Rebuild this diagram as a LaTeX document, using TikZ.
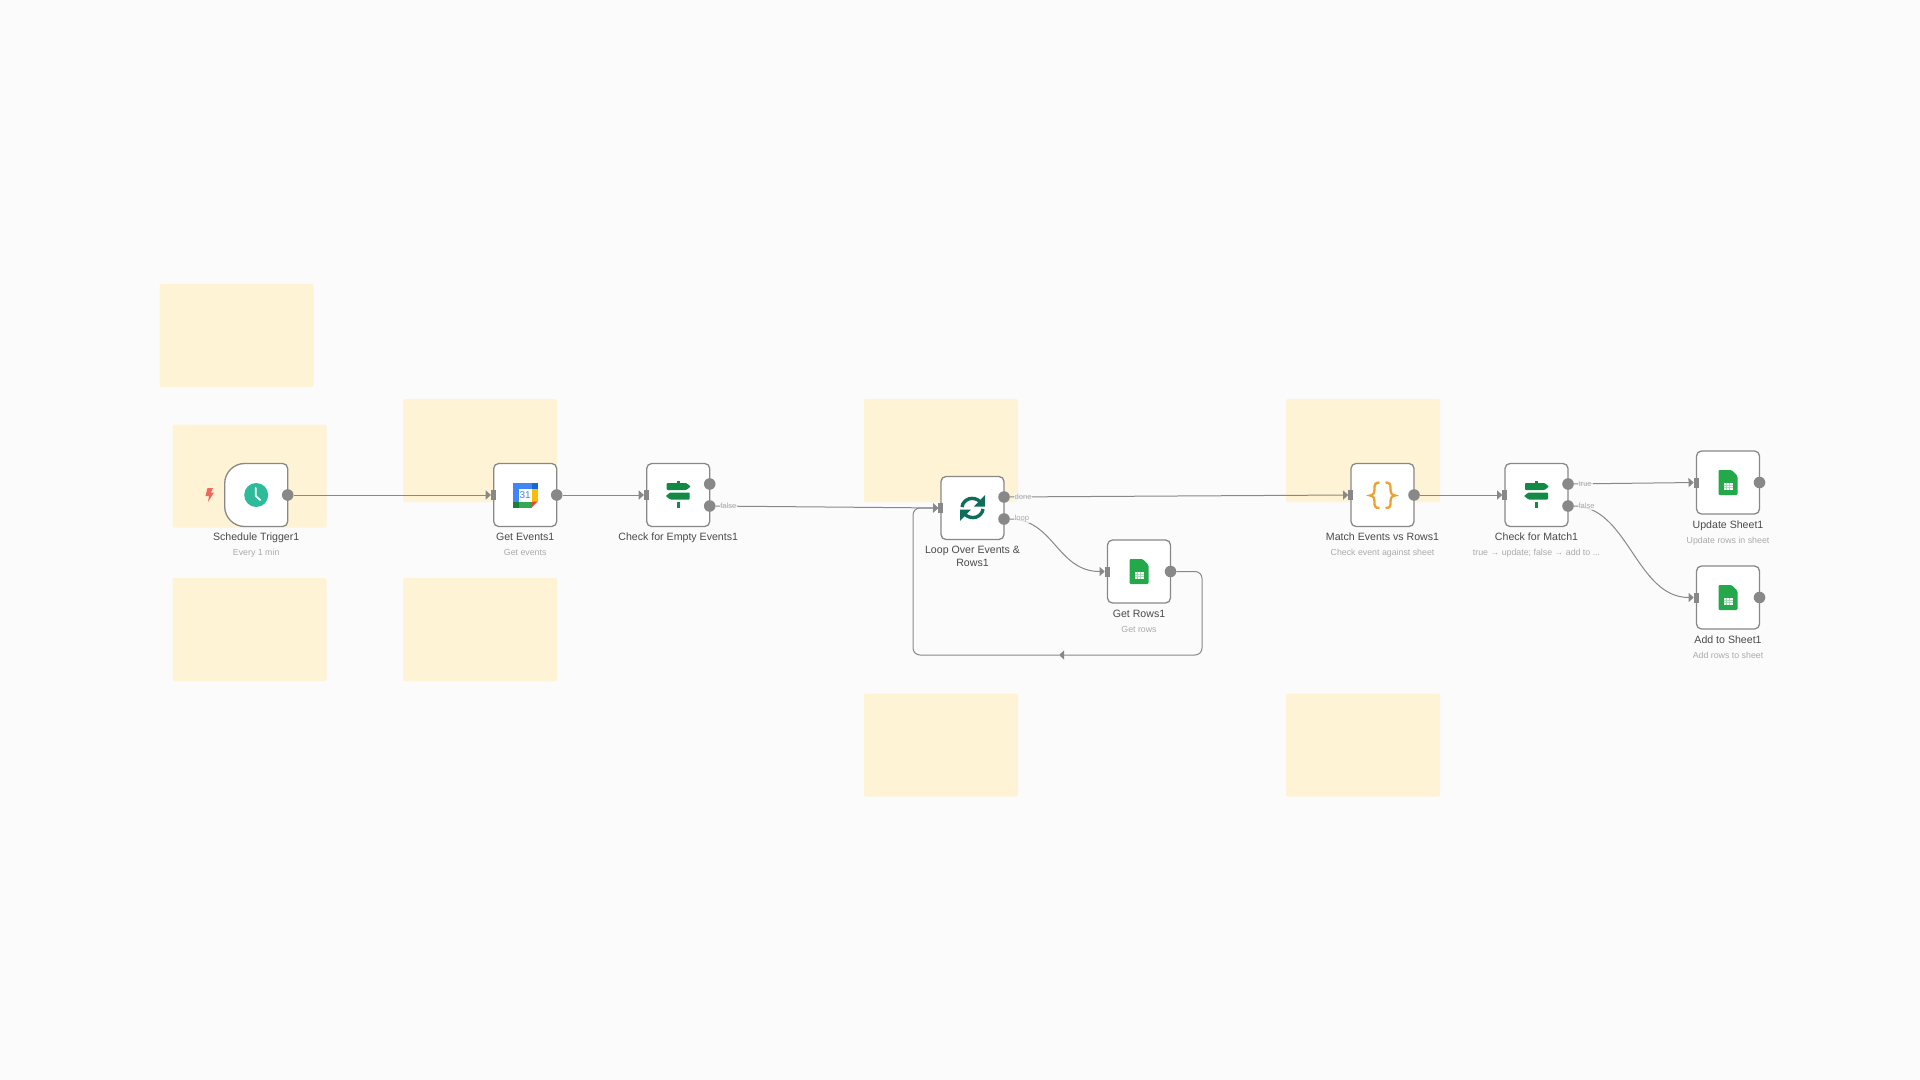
\documentclass[tikz,border=0pt]{standalone}
\usepackage{fontspec}
\setmainfont{Liberation Sans}
\usetikzlibrary{arrows.meta,positioning,calc}

\definecolor{pagebg}{HTML}{FBFBFB}
\definecolor{notefill}{HTML}{FEF3D4}
\definecolor{linegray}{HTML}{888888}
\definecolor{titlegray}{HTML}{4A4A4A}
\definecolor{subgray}{HTML}{ABABAB}
\definecolor{sheetgreen}{HTML}{23A84A}
\definecolor{signgreen}{HTML}{128A45}
\definecolor{loopteal}{HTML}{0F6E5B}
\definecolor{clockteal}{HTML}{2DBB9A}
\definecolor{codeorange}{HTML}{F0A030}
\definecolor{boltred}{HTML}{F0675C}
\definecolor{calblue}{HTML}{4285F4}
\definecolor{caldark}{HTML}{1967D2}
\definecolor{calyellow}{HTML}{FBBC04}
\definecolor{calgreen}{HTML}{34A853}
\definecolor{caldeep}{HTML}{188038}
\definecolor{calred}{HTML}{EA4335}

\tikzset{
    note/.style={fill=notefill, rounded corners=1pt, minimum width=77pt, minimum height=51.5pt, inner sep=0pt, outer sep=0pt},
    nodebox/.style={draw=linegray, line width=0.65pt, fill=white, rounded corners=2.5pt, minimum width=31.5pt, minimum height=31.5pt, inner sep=0pt, outer sep=0pt},
    port/.style={circle, fill=linegray, minimum size=5.8pt, inner sep=0pt, outer sep=0pt},
    inport/.style={fill=linegray, minimum width=2.4pt, minimum height=5pt, inner sep=0pt, outer sep=0pt, anchor=east},
    edge/.style={draw=linegray, line width=0.5pt},
    arrowedge/.style={edge, -{Triangle[length=2.6pt,width=4.6pt]}},
    title/.style={text=titlegray, font=\fontsize{5.3}{6.5}\selectfont, align=center, inner sep=0pt, text height=4pt, text depth=1.2pt},
    subtitle/.style={text=subgray, font=\fontsize{4.4}{5.5}\selectfont, inner sep=0pt, text height=3.4pt, text depth=1pt},
    portlabel/.style={text=subgray, font=\fontsize{3.8}{4}\selectfont, inner sep=0.4pt, fill=pagebg, fill opacity=0.75, text opacity=1},
    clockicon/.pic={
        \fill[clockteal] (0,0) circle (6pt);
        \draw[white, line width=0.9pt, line cap=round, line join=round] (-0.5,-7) -- (-0.5,1) -- (4,5);
    },
    calicon/.pic={
        \fill[calblue] (-12.5,-12.5) rectangle (6.5,12.5);
        \fill[caldark] (6.5,-12.5) rectangle (12.5,-6.5);
        \fill[calyellow] (6.5,-6.5) rectangle (12.5,6.5);
        \fill[calgreen] (-6.5,6.5) rectangle (6.5,12.5);
        \fill[caldeep] (-12.5,6.5) rectangle (-6.5,12.5);
        \fill[calred] (6.5,6.5) -- (12.5,6.5) -- (6.5,12.5) -- cycle;
        \fill[white] (-6.5,-6.5) rectangle (6.5,6.5);
        \node[inner sep=0pt, text=calblue, font=\fontsize{5}{5}\selectfont] at (0,0) {31};
    },
    signicon/.pic={
        \fill[signgreen, rounded corners=0.4pt] (-11.5,-12) -- (8,-12) -- (12.5,-8.5) -- (8,-5) -- (-11.5,-5) -- cycle;
        \fill[signgreen, rounded corners=0.4pt] (11.5,-2.5) -- (-8,-2.5) -- (-12.5,1) -- (-8,4.5) -- (11.5,4.5) -- cycle;
        \fill[signgreen] (-1.3,-14) rectangle (1.3,-12);
        \fill[signgreen] (-1.3,6.5) rectangle (1.3,12.5);
    },
    loopicon/.pic={
        \draw[loopteal, line width=1.7pt] (-10.5,-1) .. controls (-9.5,-9) and (1,-13) .. (8,-6);
        \fill[loopteal] (12.5,-13) -- (12.5,-1.5) -- (1.5,-1.5) -- cycle;
        \draw[loopteal, line width=1.7pt] (10.5,1) .. controls (9.5,9) and (-1,13) .. (-8,6);
        \fill[loopteal] (-12.5,13) -- (-12.5,1.5) -- (-1.5,1.5) -- cycle;
    },
    sheeticon/.pic={
        \fill[sheetgreen, rounded corners=0.6pt] (-9.5,-12.5) -- (3.5,-12.5) -- (9.5,-6.5) -- (9.5,12.5) -- (-9.5,12.5) -- cycle;
        \fill[white] (-4.5,0) rectangle (4.5,7);
        \draw[sheetgreen!40!white, line width=0.15pt] (-1.5,0) -- (-1.5,7) (1.5,0) -- (1.5,7) (-4.5,2.3) -- (4.5,2.3) (-4.5,4.7) -- (4.5,4.7);
    },
    codeicon/.pic={
        \draw[codeorange, line width=1.15pt] (-3,-12.5) .. controls (-8,-12.5) and (-8,-10) .. (-8,-6) .. controls (-8,-2) and (-9,0) .. (-12.5,0.5) .. controls (-9,1) and (-8,3) .. (-8,7) .. controls (-8,11) and (-8,13) .. (-3,13);
        \draw[codeorange, line width=1.15pt] (3,-12.5) .. controls (8,-12.5) and (8,-10) .. (8,-6) .. controls (8,-2) and (9,0) .. (12.5,0.5) .. controls (9,1) and (8,3) .. (8,7) .. controls (8,11) and (8,13) .. (3,13);
    },
    bolticon/.pic={
        \fill[boltred] (-2,-7) -- (3.5,-7) -- (1.5,-2.5) -- (4.5,-2.5) -- (-1.5,7) -- (-0.5,1) -- (-4,1) -- cycle;
    },
}

\begin{document}
\begin{tikzpicture}[x=0.5pt, y=-0.5pt]
    \useasboundingbox (0,0) rectangle (1920,1080);
    \fill[pagebg] (0,0) rectangle (1920,1080);

    \node[note] (noteone) at (236.5,335.5) {};
    \node[note] (notetrigger) at (249.5,476) {};
    \node[note] (notelow) at (249.5,629.5) {};
    \node[note] (noteget) at (480,450.5) {};
    \node[note] (notegetlow) at (480,629.5) {};
    \node[note] (noteloop) at (941,450.5) {};
    \node[note] (notelooplow) at (941,745) {};
    \node[note] (notematch) at (1363,450.5) {};
    \node[note] (notematchlow) at (1363,745) {};

    \node[nodebox, draw=none, fill=none] (schedule) at (256.2,495) {};
    \draw[draw=linegray, line width=0.65pt, fill=white] (schedule.north) [rounded corners=2.5pt] -- (schedule.north east) -- (schedule.south east) [rounded corners=10pt] -- (schedule.south west) -- (schedule.north west) -- (schedule.north);
    \node[nodebox, right=103pt of schedule] (getevents) {};
    \node[nodebox, right=45pt of getevents] (checkempty) {};
    \node[nodebox] (loopover) at (972.5,508) {};
    \node[nodebox] (getrows) at (1139,571.5) {};
    \node[nodebox] (matchevents) at (1382.5,495) {};
    \node[nodebox, right=45.5pt of matchevents] (checkmatch) {};
    \node[nodebox] (updatesheet) at (1728,482.5) {};
    \node[nodebox, below=26pt of updatesheet] (addsheet) {};

    \pic at (209.5,495) {bolticon};
    \pic at (schedule) {clockicon};
    \pic at (getevents) {calicon};
    \pic at (checkempty) {signicon};
    \pic at (loopover) {loopicon};
    \pic at (getrows) {sheeticon};
    \pic at (matchevents) {codeicon};
    \pic at (checkmatch) {signicon};
    \pic at (updatesheet) {sheeticon};
    \pic at (addsheet) {sheeticon};

    \node[title, below=3pt of schedule] (scheduletitle) {Schedule Trigger1};
    \node[subtitle, below=2.4pt of scheduletitle] (schedulesub) {Every 1 min};
    \node[title, below=3pt of getevents] (geteventstitle) {Get Events1};
    \node[subtitle, below=2.4pt of geteventstitle] (geteventssub) {Get events};
    \node[title, below=3pt of checkempty] (checkemptytitle) {Check for Empty Events1};
    \node[title, text height=10.5pt, below=3pt of loopover] (loopovertitle) {Loop Over Events \&\\Rows1};
    \node[title, below=3pt of getrows] (getrowstitle) {Get Rows1};
    \node[subtitle, below=2.4pt of getrowstitle] (getrowssub) {Get rows};
    \node[title, below=3pt of matchevents] (matcheventstitle) {Match Events vs Rows1};
    \node[subtitle, below=2.4pt of matcheventstitle] (matcheventssub) {Check event against sheet};
    \node[title, below=3pt of checkmatch] (checkmatchtitle) {Check for Match1};
    \node[subtitle, below=2.4pt of checkmatchtitle] (checkmatchsub) {true → update; false → add to ...};
    \node[title, below=3pt of updatesheet] (updatesheettitle) {Update Sheet1};
    \node[subtitle, below=2.4pt of updatesheettitle] (updatesheetsub) {Update rows in sheet};
    \node[title, below=3pt of addsheet] (addsheettitle) {Add to Sheet1};
    \node[subtitle, below=2.4pt of addsheettitle] (addsheetsub) {Add rows to sheet};

    \node[port] (scheduleout) at (schedule.east) {};
    \node[port] (geteventsout) at (getevents.east) {};
    \node[port, yshift=5.5pt] (emptyyes) at (checkempty.east) {};
    \node[port, yshift=-5.5pt] (emptyno) at (checkempty.east) {};
    \node[port, yshift=5.5pt] (loopdone) at (loopover.east) {};
    \node[port, yshift=-5.5pt] (looploop) at (loopover.east) {};
    \node[port] (getrowsout) at (getrows.east) {};
    \node[port] (matchout) at (matchevents.east) {};
    \node[port, yshift=5.5pt] (matchyes) at (checkmatch.east) {};
    \node[port, yshift=-5.5pt] (matchno) at (checkmatch.east) {};
    \node[port] (updateout) at (updatesheet.east) {};
    \node[port] (addout) at (addsheet.east) {};

    \node[inport, xshift=1pt] (geteventsin) at (getevents.west) {};
    \node[inport, xshift=1pt] (checkemptyin) at (checkempty.west) {};
    \node[inport, xshift=1pt] (loopin) at (loopover.west) {};
    \node[inport, xshift=1pt] (getrowsin) at (getrows.west) {};
    \node[inport, xshift=1pt] (matchin) at (matchevents.west) {};
    \node[inport, xshift=1pt] (checkmatchin) at (checkmatch.west) {};
    \node[inport, xshift=1pt] (updatein) at (updatesheet.west) {};
    \node[inport, xshift=1pt] (addin) at (addsheet.west) {};

    \coordinate (backright) at (1202,655);
    \coordinate (backmid) at (1059,655);
    \coordinate (backleft) at (913,655);

    \draw[arrowedge] (scheduleout) -- (geteventsin);
    \draw[arrowedge] (geteventsout) -- (checkemptyin);
    \draw[arrowedge] (emptyno) -- (loopin);
    \draw[arrowedge] (loopdone) -- (matchin);
    \draw[arrowedge] (looploop) .. controls +(50,0) and +(-50,0) .. (getrowsin);
    \draw[arrowedge, rounded corners=3.5pt] (getrowsout) -| (backright) -- (backmid);
    \draw[arrowedge, rounded corners=3.5pt] (backmid) -- (backleft) |- (loopin);
    \draw[arrowedge] (matchout) -- (checkmatchin);
    \draw[arrowedge] (matchyes) -- (updatein);
    \draw[arrowedge] (matchno) .. controls +(60,0) and +(-60,0) .. (addin);

    \node[portlabel, right=1.8pt of emptyno] (emptynolabel) {false};
    \node[portlabel, right=1.8pt of loopdone] (loopdonelabel) {done};
    \node[portlabel, right=1.8pt of looploop] (looplooplabel) {loop};
    \node[portlabel, right=1.8pt of matchyes] (matchyeslabel) {true};
    \node[portlabel, right=1.8pt of matchno] (matchnolabel) {false};
\end{tikzpicture}
\end{document}
